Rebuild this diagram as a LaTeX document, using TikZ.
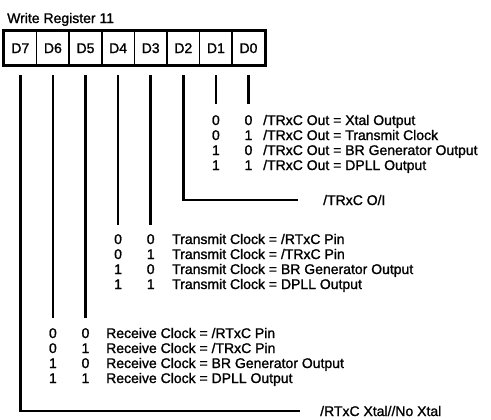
\documentclass[tikz,border=0pt]{standalone}
\usepackage{fontspec}
\setmainfont{Liberation Sans}[FakeBold=1.3]
\usetikzlibrary{calc}
\begin{document}
\begin{tikzpicture}[x=1bp,y=-1bp,
  every node/.style={font=\fontsize{14bp}{15bp}\selectfont, inner sep=0pt, text height=10bp, text depth=0pt},
  cell/.style={draw, line width=1.5bp, minimum width=32.6bp, minimum height=34bp},
  bit/.style={line width=2.7bp},
  row/.style={anchor=west},
  dig/.style={anchor=center}]
\useasboundingbox (0,0) rectangle (491,419);
\node[anchor=west] (title) at (7,18) {Write Register 11};
% register cells
\foreach \n/\i in {7/0,6/1,5/2,4/3,3/4,2/5,1/6,0/7}{
  \node[cell] (d\n) at ({4+32.6*(\i+0.5)},48) {D\n};
}
\draw[line width=2.6bp] (d7.north west) rectangle (d0.south east);
% line ends
\foreach \n in {0,...,7}{ \coordinate (s\n) at ($(d\n.south)+(0,9)$); }
\coordinate (e1) at ($(d1.south)+(0,38)$);
\coordinate (e0) at ($(d0.south)+(0,38)$);
\coordinate (e4) at ($(d4.south)+(0,159)$);
\coordinate (e3) at ($(d3.south)+(0,159)$);
\coordinate (e6) at ($(d6.south)+(0,252)$);
\coordinate (e5) at ($(d5.south)+(0,252)$);
\coordinate (e2) at (298,200);
\coordinate (e7) at (300,411);
\draw[bit] (s1) -- (e1);
\draw[bit] (s0) -- (e0);
\draw[bit] (s4) -- (e4);
\draw[bit] (s3) -- (e3);
\draw[bit] (s6) -- (e6);
\draw[bit] (s5) -- (e5);
\draw[bit] (s2) |- (e2);
\draw[bit] (s7) |- (e7);
% labels
\node[row] (oi) at (323,200) {/TRxC O/I};
\node[row] (xt) at (320,411) {/RTxC Xtal//No Xtal};
% TRxC out table
\foreach \a/\b/\t [count=\k from 0] in {0/0/{Xtal Output},0/1/{Transmit Clock},1/0/{BR Generator Output},1/1/{DPLL Output}}{
  \node[dig] (ta\k) at ({215.9},{120+15*\k}) {\a};
  \node[dig] (tb\k) at ({248.5},{120+15*\k}) {\b};
  \node[row] (tt\k) at (263,{120+15*\k}) {/TRxC Out = \t};
}
% transmit clock table
\foreach \a/\b/\t [count=\k from 0] in {0/0/{/RTxC Pin},0/1/{/TRxC Pin},1/0/{BR Generator Output},1/1/{DPLL Output}}{
  \node[dig] (xa\k) at ({118.1},{239+15*\k}) {\a};
  \node[dig] (xb\k) at ({150.7},{239+15*\k}) {\b};
  \node[row] (xx\k) at (172,{239+15*\k}) {Transmit Clock = \t};
}
% receive clock table
\foreach \a/\b/\t [count=\k from 0] in {0/0/{/RTxC Pin},0/1/{/TRxC Pin},1/0/{BR Generator Output},1/1/{DPLL Output}}{
  \node[dig] (ra\k) at ({52.9},{333+15*\k}) {\a};
  \node[dig] (rb\k) at ({85.5},{333+15*\k}) {\b};
  \node[row] (rr\k) at (106,{333+15*\k}) {Receive Clock = \t};
}
\end{tikzpicture}
\end{document}
